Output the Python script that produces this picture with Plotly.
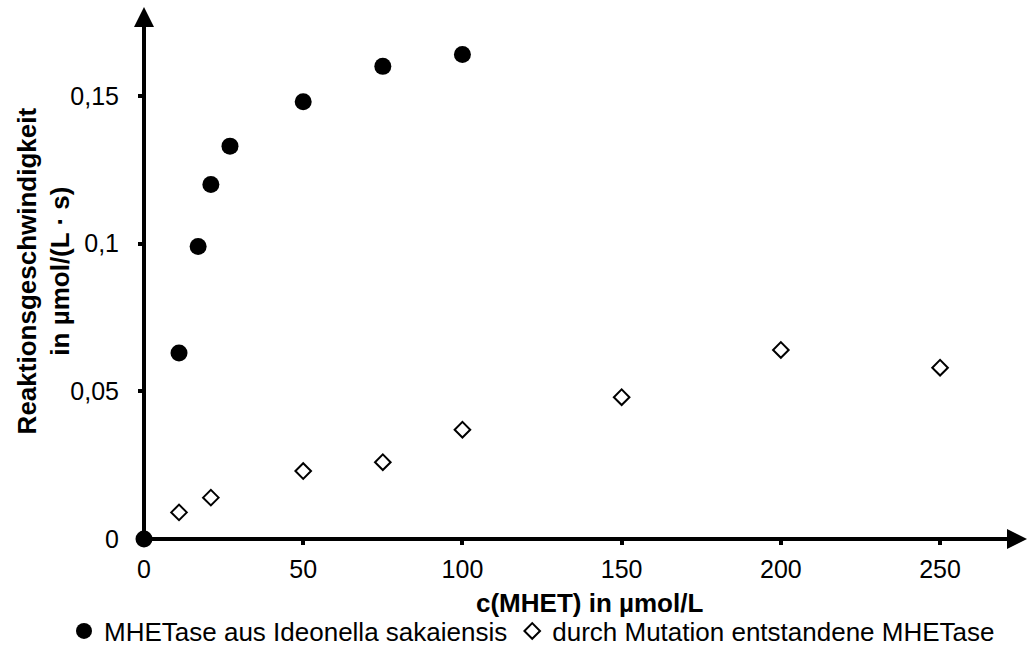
import plotly.graph_objects as go

# Data
conc_wild = [0, 11, 17, 21, 27, 50, 75, 100]
rate_wild = [0, 0.063, 0.099, 0.120, 0.133, 0.148, 0.160, 0.164]
conc_mut = [11, 21, 50, 75, 100, 150, 200, 250]
rate_mut = [0.009, 0.014, 0.023, 0.026, 0.037, 0.048, 0.064, 0.058]
x_ticks = [0, 50, 100, 150, 200, 250]
y_ticks = [0, 0.05, 0.1, 0.15]
name_wild = "MHETase aus Ideonella sakaiensis"
name_mut = "durch Mutation entstandene MHETase"
y_title = "<b>Reaktionsgeschwindigkeit<br>in µmol/(L · s)</b>"
x_title = "<b>c(MHET) in µmol/L</b>"

XMAX = 277.3
YMAX = 0.1801

fig = go.Figure()
fig.add_trace(go.Scatter(
    x=conc_wild, y=rate_wild, mode="markers", name=name_wild,
    marker=dict(symbol="circle", size=17, color="black"),
    cliponaxis=False,
))
fig.add_trace(go.Scatter(
    x=conc_mut, y=rate_mut, mode="markers", name=name_mut,
    marker=dict(symbol="diamond", size=12, color="white",
                line=dict(color="black", width=2)),
    cliponaxis=False,
))

fam = "Liberation Sans, Arial, sans-serif"
tick_font = dict(family=fam, size=25, color="black")
title_font = dict(family=fam, size=26, color="black")
legend_font = dict(family=fam, size=26, color="black")

# axis arrows
for (xt, yt) in [(XMAX, 0), (0, YMAX)]:
    fig.add_annotation(x=xt, y=yt, ax=0, ay=0, xref="x", yref="y", axref="x", ayref="y",
                       showarrow=True, arrowhead=2, arrowsize=1.0, arrowwidth=4,
                       arrowcolor="black", text="", standoff=0)

# axis titles
fig.add_annotation(text=y_title, textangle=-90, xref="paper", yref="paper",
                   x=-0.1138, y=0.504, xanchor="center", yanchor="middle",
                   showarrow=False, font=title_font)
fig.add_annotation(text=x_title, xref="paper", yref="paper",
                   x=0.505, y=-0.1203, xanchor="center", yanchor="middle",
                   showarrow=False, font=title_font)

fig.update_layout(
    width=1028, height=656,
    margin=dict(l=144, r=1, t=7, b=117),
    plot_bgcolor="white", paper_bgcolor="white",
    font=tick_font,
    separators=", ",
    showlegend=True,
    legend=dict(orientation="h", x=-0.0906, xanchor="left", y=-0.173, yanchor="middle",
                font=legend_font, itemwidth=30, tracegroupgap=0,
                bgcolor="rgba(0,0,0,0)"),
    xaxis=dict(
        range=[0, XMAX], tickvals=x_ticks, showgrid=False, zeroline=False,
        showline=False, ticks="outside", ticklen=5, tickwidth=4, tickcolor="black",
        tickfont=tick_font, automargin=False, ticklabelstandoff=3,
    ),
    yaxis=dict(
        range=[0, YMAX], tickvals=y_ticks, showgrid=False, zeroline=False,
        showline=False, ticks="outside", ticklen=5, tickwidth=4, tickcolor="black",
        tickfont=tick_font, automargin=False, ticklabelstandoff=14,
    ),
)

fig.write_html("out.html", config={"displayModeBar": False},
               post_script="document.body.style.margin='0px';")
